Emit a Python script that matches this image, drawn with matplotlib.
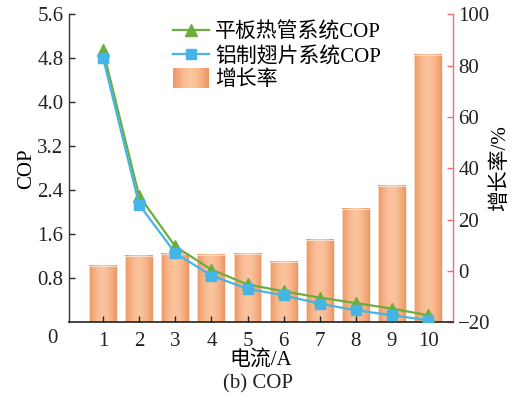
import numpy as np
import matplotlib
matplotlib.use("Agg")
import matplotlib.pyplot as plt
from matplotlib.patches import Rectangle
from matplotlib.legend_handler import HandlerBase

plt.rcParams['font.family'] = ['Liberation Serif', 'Noto Sans CJK SC']
plt.rcParams['axes.unicode_minus'] = True

current = [1, 2, 3, 4, 5, 6, 7, 8, 9, 10]
cop_flat = [4.95, 2.30, 1.38, 0.96, 0.69, 0.565, 0.45, 0.35, 0.25, 0.13]
cop_fin = [4.81, 2.14, 1.26, 0.85, 0.61, 0.49, 0.34, 0.22, 0.13, 0.04]
growth = [2.0, 6.0, 6.7, 6.2, 6.6, 3.6, 12.2, 24.0, 33.0, 84.2]
left_ticks = [0.8, 1.6, 2.4, 3.2, 4.0, 4.8, 5.6]
right_ticks = [-20, 0, 20, 40, 60, 80, 100]

green = '#6FAC3E'
blue = '#45B5E6'
red = '#F26E6E'
edge_c = np.array([238, 150, 98]) / 255
mid_c = np.array([250, 196, 158]) / 255
FS = 15


def bar_gradient(n=64):
    t = np.linspace(-1, 1, n)
    w = 1 - np.abs(t) ** 1.6
    rgb = edge_c[None, :] * (1 - w[:, None]) + mid_c[None, :] * w[:, None]
    return rgb[None, :, :]


fig = plt.figure(figsize=(5.23, 4.05), dpi=100)
ax = fig.add_axes([0.132, 0.204, 0.7336, 0.761])
ax2 = ax.twinx()

# growth-rate bars with a horizontal shading, on the right axis
bw = 0.77
grad = bar_gradient()
for x, g in zip(current, growth):
    ax2.imshow(grad, extent=[x - bw / 2, x + bw / 2, -20, g],
               aspect='auto', interpolation='bilinear', zorder=1)
    ax2.add_patch(Rectangle((x - bw / 2, -20), bw, g + 20, fill=False,
                            edgecolor='#FCE6D6', linewidth=0.6, zorder=2))
ax2.set_ylim(-20, 100)
ax2.set_yticks(right_ticks)
ax2.set_xlim(0.06, 10.68)

# COP curves on the left axis, drawn above the bars
ax.set_zorder(ax2.get_zorder() + 1)
ax.patch.set_visible(False)
ax.plot(current, cop_flat, color=green, lw=1.6, marker='^', ms=8,
        label='平板热管系统COP', zorder=3)
ax.plot(current, cop_fin, color=blue, lw=1.6, marker='s', ms=7,
        label='铝制翅片系统COP', zorder=4)
ax.set_xlim(0.06, 10.68)
ax.set_ylim(0, 5.6)
ax.set_yticks(left_ticks)
ax.set_yticklabels([f'{v:.1f}' for v in left_ticks])
ax.set_xticks(current)

for a in (ax, ax2):
    a.spines['top'].set_visible(False)
ax.spines['right'].set_visible(False)
ax2.spines['left'].set_visible(False)
ax2.spines['bottom'].set_visible(False)
ax2.spines['right'].set_color(red)
ax.spines['left'].set_color('#333333')
ax.spines['bottom'].set_color('#222222')
ax.spines['left'].set_linewidth(1.0)
ax.spines['bottom'].set_linewidth(1.2)
ax2.spines['right'].set_linewidth(1.0)

ax.tick_params(axis='both', direction='in', length=4, width=1,
               labelsize=FS, colors='#222222')
ax.tick_params(axis='y', pad=4)
ax.tick_params(axis='x', pad=7)
ax2.tick_params(axis='y', direction='in', length=4, width=1, color=red,
                labelcolor='#222222', labelsize=FS, pad=4)
ax.text(-0.03, -0.052, '0', transform=ax.transAxes, ha='right', va='center',
        fontsize=FS, color='#222222')

ax.set_ylabel('COP', fontsize=FS, labelpad=1)
ax2.set_ylabel('增长率/%', fontsize=FS, labelpad=0)
ax.set_xlabel('电流/A', fontsize=FS, labelpad=0)
fig.text(0.493, 0.052, '(b) COP', ha='center', va='center', fontsize=FS,
         color='#222222')


class GradientPatchHandler(HandlerBase):
    def create_artists(self, legend, orig_handle, xdescent, ydescent,
                       width, height, fontsize, trans):
        arts = []
        n = 20
        g = bar_gradient(n)[0]
        for i in range(n):
            r = Rectangle((-xdescent + width * i / n, -ydescent - 2),
                          width / n + 0.3, height + 4, facecolor=g[i],
                          edgecolor='none', transform=trans)
            arts.append(r)
        return arts


bar_handle = Rectangle((0, 0), 1, 1)
h1, l1 = ax.get_legend_handles_labels()
leg = ax.legend(h1 + [bar_handle], l1 + ['增长率'],
                handler_map={Rectangle: GradientPatchHandler()},
                loc='upper left', bbox_to_anchor=(0.248, 1.0),
                frameon=False, fontsize=FS, handlelength=1.75,
                handletextpad=0.3, labelspacing=0.2, borderaxespad=0)

fig.savefig('out.png', dpi=100)
